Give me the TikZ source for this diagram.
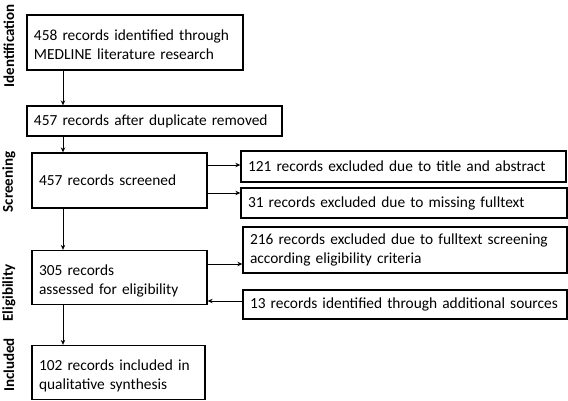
\documentclass[tikz,border=0pt]{standalone}
\usepackage{fontspec}
\setmainfont{Carlito}
\usetikzlibrary{arrows.meta,calc}
\begin{document}
\begin{tikzpicture}[x=1pt,y=-1pt,
  box/.style={draw,line width=1.3pt,inner xsep=6pt,inner ysep=0pt,align=left,font=\fontsize{15.4}{19}\selectfont,anchor=center},
  low/.style={text depth=14pt},
  arr/.style={line width=0.8pt,-{Stealth[length=5pt,width=4.5pt]}},
  phase/.style={rotate=90,font=\bfseries\fontsize{15}{17}\selectfont,anchor=center}]
\useasboundingbox (0,0) rectangle (568,401);
\node[box,low,minimum width=216pt,minimum height=55pt,text width=202pt] (b1) at (135,42.5) {458 records identified through\\MEDLINE literature research};
\node[box,minimum width=255pt,minimum height=30pt,text width=241pt] (b2) at (154.5,121) {457 records after duplicate removed};
\node[box,minimum width=175pt,minimum height=55pt,text width=161pt] (b3) at (119.5,180.5) {457 records screened};
\node[box,minimum width=325pt,minimum height=31pt,text width=311pt] (b4) at (403.5,166.5) {121 records excluded due to title and abstract};
\node[box,minimum width=326pt,minimum height=30pt,text width=312pt] (b5) at (404,203) {31 records excluded due to missing fulltext};
\node[box,minimum width=324pt,minimum height=46pt,text width=310pt] (b6) at (405,250) {216 records excluded due to fulltext screening\\according eligibility criteria};
\node[box,minimum width=324pt,minimum height=29pt,text width=310pt] (b7) at (405,304.5) {13 records identified through additional sources};
\node[box,low,minimum width=175pt,minimum height=54pt,text width=161pt] (b8) at (119.5,277.5) {305 records\\assessed for eligibility};
\node[box,low,minimum width=173pt,minimum height=54pt,text width=159pt] (b9) at (118.5,372.5) {102 records included in\\qualitative synthesis};
\node[phase] (p1) at (9,46) {Identification};
\node[phase] (p2) at (9,182) {Screening};
\node[phase] (p3) at (9,293) {Eligibility};
\node[phase] (p4) at (9,365) {Included};
\coordinate (c1) at (63,0);
\draw[arr] (b1.south -| c1) -- (b2.north -| c1);
\draw[arr] (b2.south -| c1) -- (b3.north -| c1);
\draw[arr] (b3.south -| c1) -- (b8.north -| c1);
\draw[arr] (b8.south -| c1) -- (b9.north -| c1);
\coordinate (y4) at (0,165);
\coordinate (y5) at (0,193);
\coordinate (y6) at (0,264);
\coordinate (y7) at (0,301);
\draw[arr] (b3.east |- y4) -- (b4.west |- y4);
\draw[arr] (b3.east |- y5) -- (b5.west |- y5);
\draw[arr] (b8.east |- y6) -- (b6.west |- y6);
\draw[arr] (b7.west |- y7) -- (b8.east |- y7);
\end{tikzpicture}
\end{document}
